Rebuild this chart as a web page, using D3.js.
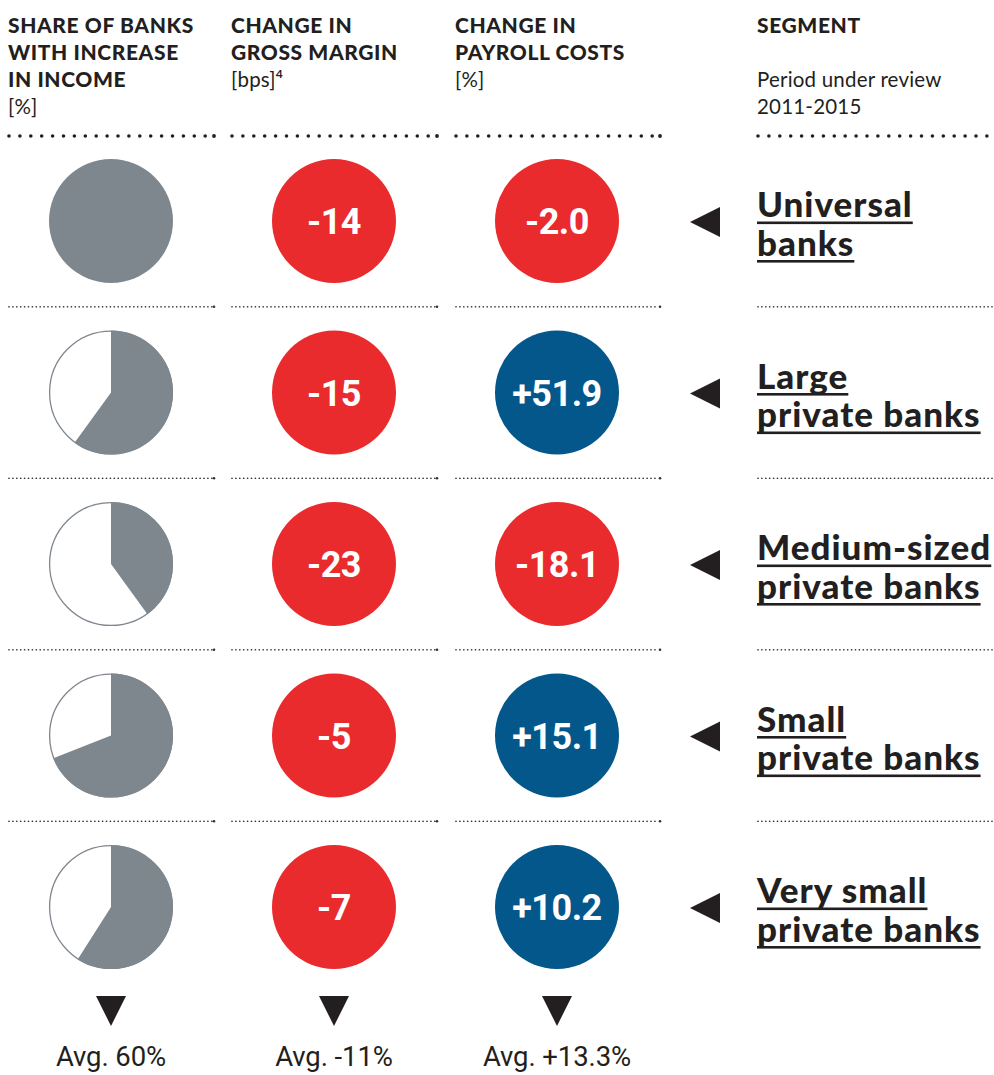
<!DOCTYPE html>
<html><head><meta charset="utf-8">
<script src="https://cdn.jsdelivr.net/npm/d3@7"></script>
<style>body{margin:0;background:#fff}svg{display:block}</style>
</head><body>
<script>
const segmentLines = [["Universal","banks"],["Large","private banks"],["Medium-sized","private banks"],["Small","private banks"],["Very small","private banks"]];
const shareIncrease = [100, 60, 40, 69, 59];
const grossMargin = [-14, -15, -23, -5, -7];
const payrollCosts = [-2.0, 51.9, -18.1, 15.1, 10.2];
const averageLabels = ["Avg. 60%", "Avg. -11%", "Avg. +13.3%"];
const headers = [
  {bold:["SHARE OF BANKS","WITH INCREASE","IN INCOME"], unit:[null,null,null,"[%]"]},
  {bold:["CHANGE IN","GROSS MARGIN"], unit:[null,null,"[bps]"], sup:"4"},
  {bold:["CHANGE IN","PAYROLL COSTS"], unit:[null,null,"[%]"]},
  {bold:["SEGMENT"], unit:[null,null,"Period under review","2011-2015"]}
];

const W = 994, H = 1075;
const RED = "#EA2B2E", BLUE = "#03578B", GRAY = "#7F878E", INK = "#231F20";
const svg = d3.select("body").append("svg").attr("width", W).attr("height", H);

const colLeft = [8, 231, 455, 757];
const colRight = [214, 437, 660, 994];
const colCenter = [111, 334, 557];
const rowY = d3.scaleLinear().domain([0, 4]).range([221, 907]);
const R = 62;

// headers
headers.forEach((h, c) => {
  h.bold.forEach((t, i) => {
    svg.append("text").attr("x", colLeft[c]).attr("y", 33 + i*27)
      .attr("font-family", "Lato").attr("font-weight", 900).attr("font-size", 21)
      .attr("letter-spacing", 0.6).attr("fill", INK).text(t);
  });
  h.unit.forEach((t, i) => {
    if (!t) return;
    const tx = svg.append("text").attr("x", colLeft[c]).attr("y", 33 + i*27)
      .attr("font-family", "Lato").attr("font-size", 20.5).attr("letter-spacing", 0.2).attr("fill", INK).text(t);
    if (h.sup && i === h.unit.length - 1) {
      tx.append("tspan").attr("dy", -9).attr("font-size", 12).attr("font-weight", 700).text(h.sup);
    }
  });
});

// header dotted lines
colLeft.forEach((x0, c) => {
  const x1 = colRight[c] - (c < 3 ? 4 : 0);
  svg.append("line").attr("x1", x0 + 1).attr("x2", x1).attr("y1", 136).attr("y2", 136)
    .attr("stroke", INK).attr("stroke-width", 3.6).attr("stroke-linecap", "round")
    .attr("stroke-dasharray", "0 10.9");
  if (c < 3) svg.append("circle").attr("cx", colRight[c]).attr("cy", 136).attr("r", 1.9).attr("fill", INK);
});

// row separators
d3.range(4).forEach(i => {
  const y = (rowY(i) + rowY(i+1)) / 2;
  colLeft.forEach((x0, c) => {
    const x1 = colRight[c] - (c < 3 ? 2 : 0);
    svg.append("line").attr("x1", x0 + 1).attr("x2", x1).attr("y1", y).attr("y2", y)
      .attr("stroke", "#333").attr("stroke-width", 1.7).attr("stroke-linecap", "round")
      .attr("stroke-dasharray", "0 3.9");
    if (c < 3) svg.append("circle").attr("cx", colRight[c]).attr("cy", y).attr("r", 1.3).attr("fill", "#333");
  });
});

// pies
const angle = d3.scaleLinear().domain([0, 100]).range([0, 2*Math.PI]);
const arc = d3.arc().innerRadius(0).outerRadius(R).startAngle(0);
shareIncrease.forEach((v, i) => {
  const g = svg.append("g").attr("transform", `translate(${colCenter[0]},${rowY(i)})`);
  if (v >= 100) {
    g.append("circle").attr("r", R).attr("fill", GRAY);
  } else {
    g.append("circle").attr("r", R - 0.6).attr("fill", "#fff").attr("stroke", GRAY).attr("stroke-width", 1.3);
    g.append("path").attr("d", arc({endAngle: angle(v)})).attr("fill", GRAY);
  }
});

// value bubbles
const signed = f => v => (v > 0 ? "+" : v < 0 ? "-" : "") + f(Math.abs(v));
function bubbles(values, col, fmt) {
  values.forEach((v, i) => {
    const g = svg.append("g").attr("transform", `translate(${colCenter[col]},${rowY(i)})`);
    g.append("circle").attr("r", R).attr("fill", v < 0 ? RED : BLUE);
    g.append("text").attr("y", 13).attr("text-anchor", "middle")
      .attr("font-family", "Roboto").attr("font-weight", 700).attr("font-size", 36)
      .attr("letter-spacing", -0.5).attr("fill", "#fff").text(fmt(v));
  });
}
bubbles(grossMargin, 1, signed(d3.format("d")));
bubbles(payrollCosts, 2, signed(d3.format(".1f")));

// segment arrows and labels
segmentLines.forEach((lines, i) => {
  const cy = rowY(i) + 1;
  svg.append("path").attr("d", d3.line()([[690, cy], [720, cy-15], [720, cy+15]]) + "Z").attr("fill", INK);
  lines.forEach((t, j) => {
    const by = rowY(i) - 4 + j*38.5;
    const tx = svg.append("text").attr("x", 757).attr("y", by)
      .attr("font-family", "Lato").attr("font-weight", 900).attr("font-size", 35)
      .attr("letter-spacing", 1).attr("fill", INK).text(t);
    const w = tx.node().getComputedTextLength();
    svg.append("rect").attr("x", 757).attr("y", by + 4.5).attr("width", w).attr("height", 2.6).attr("fill", INK);
  });
});

// bottom averages
averageLabels.forEach((t, c) => {
  const x = colCenter[c];
  svg.append("path").attr("d", d3.line()([[x-15, 996], [x+15, 996], [x, 1026]]) + "Z").attr("fill", INK);
  svg.append("text").attr("x", x).attr("y", 1066).attr("text-anchor", "middle")
    .attr("font-family", "Roboto").attr("font-size", 27.5).attr("letter-spacing", -0.1)
    .attr("fill", INK).text(t);
});
</script>
</body></html>
